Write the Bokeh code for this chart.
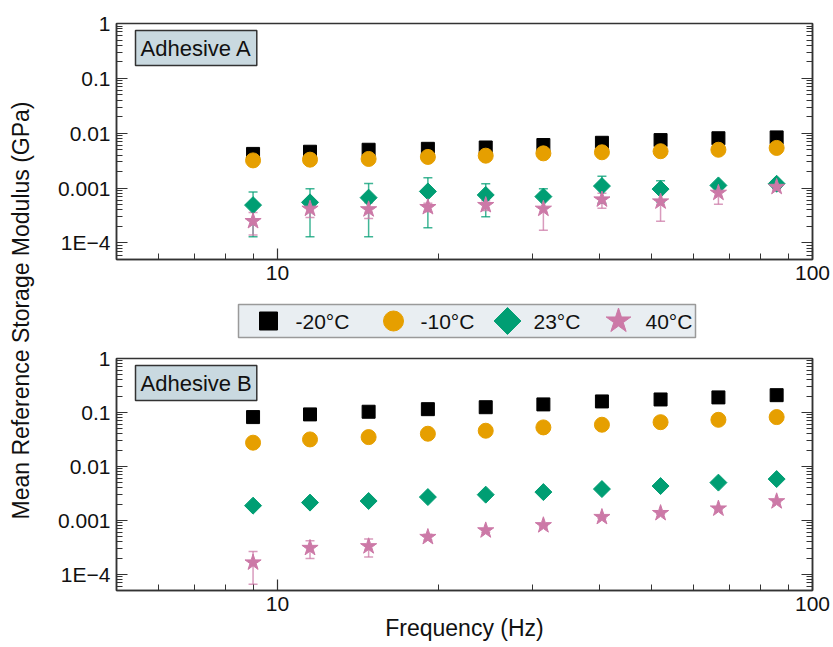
import math
from bokeh.plotting import figure
from bokeh.models import (FixedTicker, LogAxis, Whisker, TeeHead, ColumnDataSource,
                          Label, Range1d)
from bokeh.layouts import row, column
from bokeh.core.properties import value
from bokeh.embed import file_html
from bokeh.resources import INLINE

# ---------------- data ----------------
freq = [9.0, 11.5, 14.8, 19.1, 24.5, 31.4, 40.4, 52.0, 66.7, 85.7]
temps = ["-20°C", "-10°C", "23°C", "40°C"]
panels = ["Adhesive A", "Adhesive B"]

a_m20 = [0.0042, 0.0046, 0.0050, 0.0052, 0.0055, 0.0061, 0.0067, 0.0075, 0.0081, 0.0084]
a_m10 = [0.0032, 0.0033, 0.0034, 0.0037, 0.0039, 0.0043, 0.0045, 0.0047, 0.0050, 0.0054]
a_23 = [0.00049, 0.00055, 0.00067, 0.00087, 0.00075, 0.00070, 0.00109, 0.00096, 0.00112, 0.00120]
a_23_err = [0.00036, 0.00042, 0.00054, 0.00068, 0.00045, 0.00027, 0.00056, 0.00040, 0.00008, 0.00005]
a_40 = [0.00025, 0.00042, 0.00041, 0.00045, 0.00049, 0.00042, 0.00062, 0.00057, 0.00082, 0.00105]
a_40_err = [0.00011, 0.00013, 0.00013, 0.00008, 0.00010, 0.00025, 0.00019, 0.00032, 0.00031, 0.00008]

b_m20 = [0.082, 0.092, 0.103, 0.115, 0.125, 0.141, 0.160, 0.174, 0.190, 0.209]
b_m10 = [0.0275, 0.0316, 0.0349, 0.0403, 0.0458, 0.0528, 0.0592, 0.066, 0.073, 0.082]
b_23 = [0.00187, 0.00213, 0.00228, 0.0027, 0.00299, 0.00334, 0.0038, 0.00432, 0.0050, 0.00582]
b_23_err = [0.0001, 0.0001, 0.0001, 0.00015, 0.00015, 0.0002, 0.0002, 0.0002, 0.0003, 0.0003]
b_40 = [0.000165, 0.000307, 0.00033, 0.00049, 0.00065, 0.00081, 0.00115, 0.00136, 0.00165, 0.00225]
b_40_err = [0.0001, 0.00011, 0.00012, 0.00006, 0.00005, 0.00005, 0.00006, 0.00007, 0.00008, 0.0001]

y_major = [1e-4, 1e-3, 1e-2, 1e-1, 1.0]
y_labels = ["1E\u22124", "0.001", "0.01", "0.1", "1"]
x_major = [10, 100]
x_labels = ["10", "100"]

# ---------------- style ----------------
FONT = "Liberation Sans"
C_BLACK = "#000000"
C_ORANGE = "#E69F00"
C_GREEN = "#009E73"
C_PINK = "#CC79A7"
AXC = "#333333"
TXT = "#111111"
colors = [C_BLACK, C_ORANGE, C_GREEN, C_PINK]

y_minor = [k * 10 ** e for e in range(-5, 0) for k in range(2, 10)]
x_minor = [k for k in range(5, 10)] + [k * 10 for k in range(2, 10)]

BL, BR = 78, 21      # left / right borders of the main column (frame 116..812)
FW = 696             # frame width


def style_axis(ax, ticker, show_labels, overrides):
    ax.ticker = ticker
    ax.axis_line_color = AXC
    ax.axis_line_width = 1.5
    ax.major_tick_line_color = AXC
    ax.minor_tick_line_color = AXC
    ax.major_tick_line_width = 1.2
    ax.minor_tick_line_width = 1.0
    ax.major_tick_in = 11
    ax.major_tick_out = 0
    ax.minor_tick_in = 6
    ax.minor_tick_out = 0
    ax.major_label_text_font = FONT
    ax.major_label_text_font_size = "21px"
    ax.major_label_text_color = TXT
    ax.major_label_standoff = 6
    if show_labels:
        ax.major_label_overrides = overrides
    else:
        ax.major_label_text_alpha = 0
        ax.major_label_text_font_size = "1px"


def make_panel(name, ys, errs, height, b_top, b_bottom, frame_h, xlab=None):
    p = figure(width=BL + FW + BR, height=height,
               x_axis_type="log", y_axis_type="log",
               x_range=Range1d(5, 100), y_range=Range1d(5e-5, 1),
               output_backend="svg", toolbar_location=None,
               min_border_left=BL, min_border_right=BR,
               min_border_top=b_top, min_border_bottom=b_bottom)
    p.grid.visible = False
    p.outline_line_color = AXC
    p.outline_line_width = 1.5
    p.background_fill_color = "white"
    p.border_fill_color = "white"

    yt = FixedTicker(ticks=y_major, minor_ticks=y_minor)
    xt = FixedTicker(ticks=x_major, minor_ticks=x_minor)
    style_axis(p.yaxis[0], yt, True, {v: l for v, l in zip(y_major, y_labels)})
    style_axis(p.xaxis[0], xt, True, {v: l for v, l in zip(x_major, x_labels)})
    ra = LogAxis()
    style_axis(ra, FixedTicker(ticks=y_major, minor_ticks=y_minor), False, {})
    p.add_layout(ra, "right")

    if xlab is not None:
        p.xaxis[0].axis_label = xlab
        p.xaxis[0].axis_label_text_font = FONT
        p.xaxis[0].axis_label_text_font_size = "23px"
        p.xaxis[0].axis_label_text_font_style = "normal"
        p.xaxis[0].axis_label_text_color = TXT
        p.xaxis[0].axis_label_standoff = 1

    # error bars
    for vals, err, col in zip(ys[2:], errs, colors[2:]):
        lo = [v - e for v, e in zip(vals, err)]
        hi = [v + e for v, e in zip(vals, err)]
        src = ColumnDataSource(dict(x=freq, lo=lo, hi=hi))
        w = Whisker(base="x", lower="lo", upper="hi", source=src,
                    line_color=col, line_alpha=0.75, line_width=1.5,
                    upper_head=TeeHead(size=9, line_color=col, line_alpha=0.75, line_width=1.5),
                    lower_head=TeeHead(size=9, line_color=col, line_alpha=0.75, line_width=1.5))
        p.add_layout(w)

    p.scatter(freq, ys[0], marker="square", size=13, color=C_BLACK)
    p.scatter(freq, ys[1], marker="circle", size=15, color=C_ORANGE)
    p.scatter(freq, ys[2], marker="square", angle=math.pi / 4, size=12, color=C_GREEN)
    p.scatter(freq, ys[3], marker="star", size=17, color=C_PINK)

    lab = Label(x=19, y=frame_h - 7, x_units="screen", y_units="screen",
                text=name, text_font=FONT, text_font_size="22px",
                text_align="left", text_baseline="top", text_color=TXT,
                background_fill_color="#c9d9e0", border_line_color=AXC,
                border_line_width=1.5, padding=5)
    p.add_layout(lab)
    return p


p1 = make_panel(panels[0], [a_m20, a_m10, a_23, a_40], [a_23_err, a_40_err],
                height=293, b_top=23, b_bottom=34, frame_h=236)
p2 = make_panel(panels[1], [b_m20, b_m10, b_23, b_40], [b_23_err, b_40_err],
                height=304, b_top=15, b_bottom=57, frame_h=232, xlab="Frequency (Hz)")

# ---------------- legend strip (frame aligned with the panels) ----------------
leg = figure(width=BL + FW + BR, height=50, x_range=Range1d(0, FW), y_range=Range1d(0, 50),
             output_backend="svg", toolbar_location=None,
             min_border_left=BL, min_border_right=BR, min_border_top=0, min_border_bottom=0)
leg.axis.visible = False
leg.grid.visible = False
leg.outline_line_color = None
leg.quad(left=[122], right=[579], bottom=[6], top=[39], fill_color="#e9eef2",
         line_color="#9a9a9a", line_width=1.5)
leg_marker_x = [152, 277, 391, 502]
leg_text_x = [179, 304, 417, 529]
LY = 22.5
leg.scatter([leg_marker_x[0]], [LY], marker="square", size=18, color=C_BLACK)
leg.scatter([leg_marker_x[1]], [LY], marker="circle", size=20, color=C_ORANGE)
leg.scatter([leg_marker_x[2]], [LY], marker="square", angle=math.pi / 4, size=19, color=C_GREEN)
leg.scatter([leg_marker_x[3]], [LY], marker="star", size=26, color=C_PINK)
leg.text(x=leg_text_x, y=[LY] * 4, text=temps, text_font=value(FONT), text_font_size="21px",
         text_baseline="middle", text_align="left", text_color=TXT)

# ---------------- y label strip ----------------
ylab = figure(width=38, height=647, x_range=Range1d(0, 38), y_range=Range1d(0, 647),
              output_backend="svg", toolbar_location=None,
              min_border_left=0, min_border_right=0, min_border_top=0, min_border_bottom=0)
ylab.axis.visible = False
ylab.grid.visible = False
ylab.outline_line_color = None
ylab.text(x=[20], y=[337], text=["Mean Reference Storage Modulus (GPa)"], angle=math.pi / 2,
          text_font=value(FONT), text_font_size="23px", text_align="center",
          text_baseline="middle", text_color=TXT)

layout = row(ylab, column(p1, leg, p2))
open("out.html", "w").write(file_html(layout, INLINE))
